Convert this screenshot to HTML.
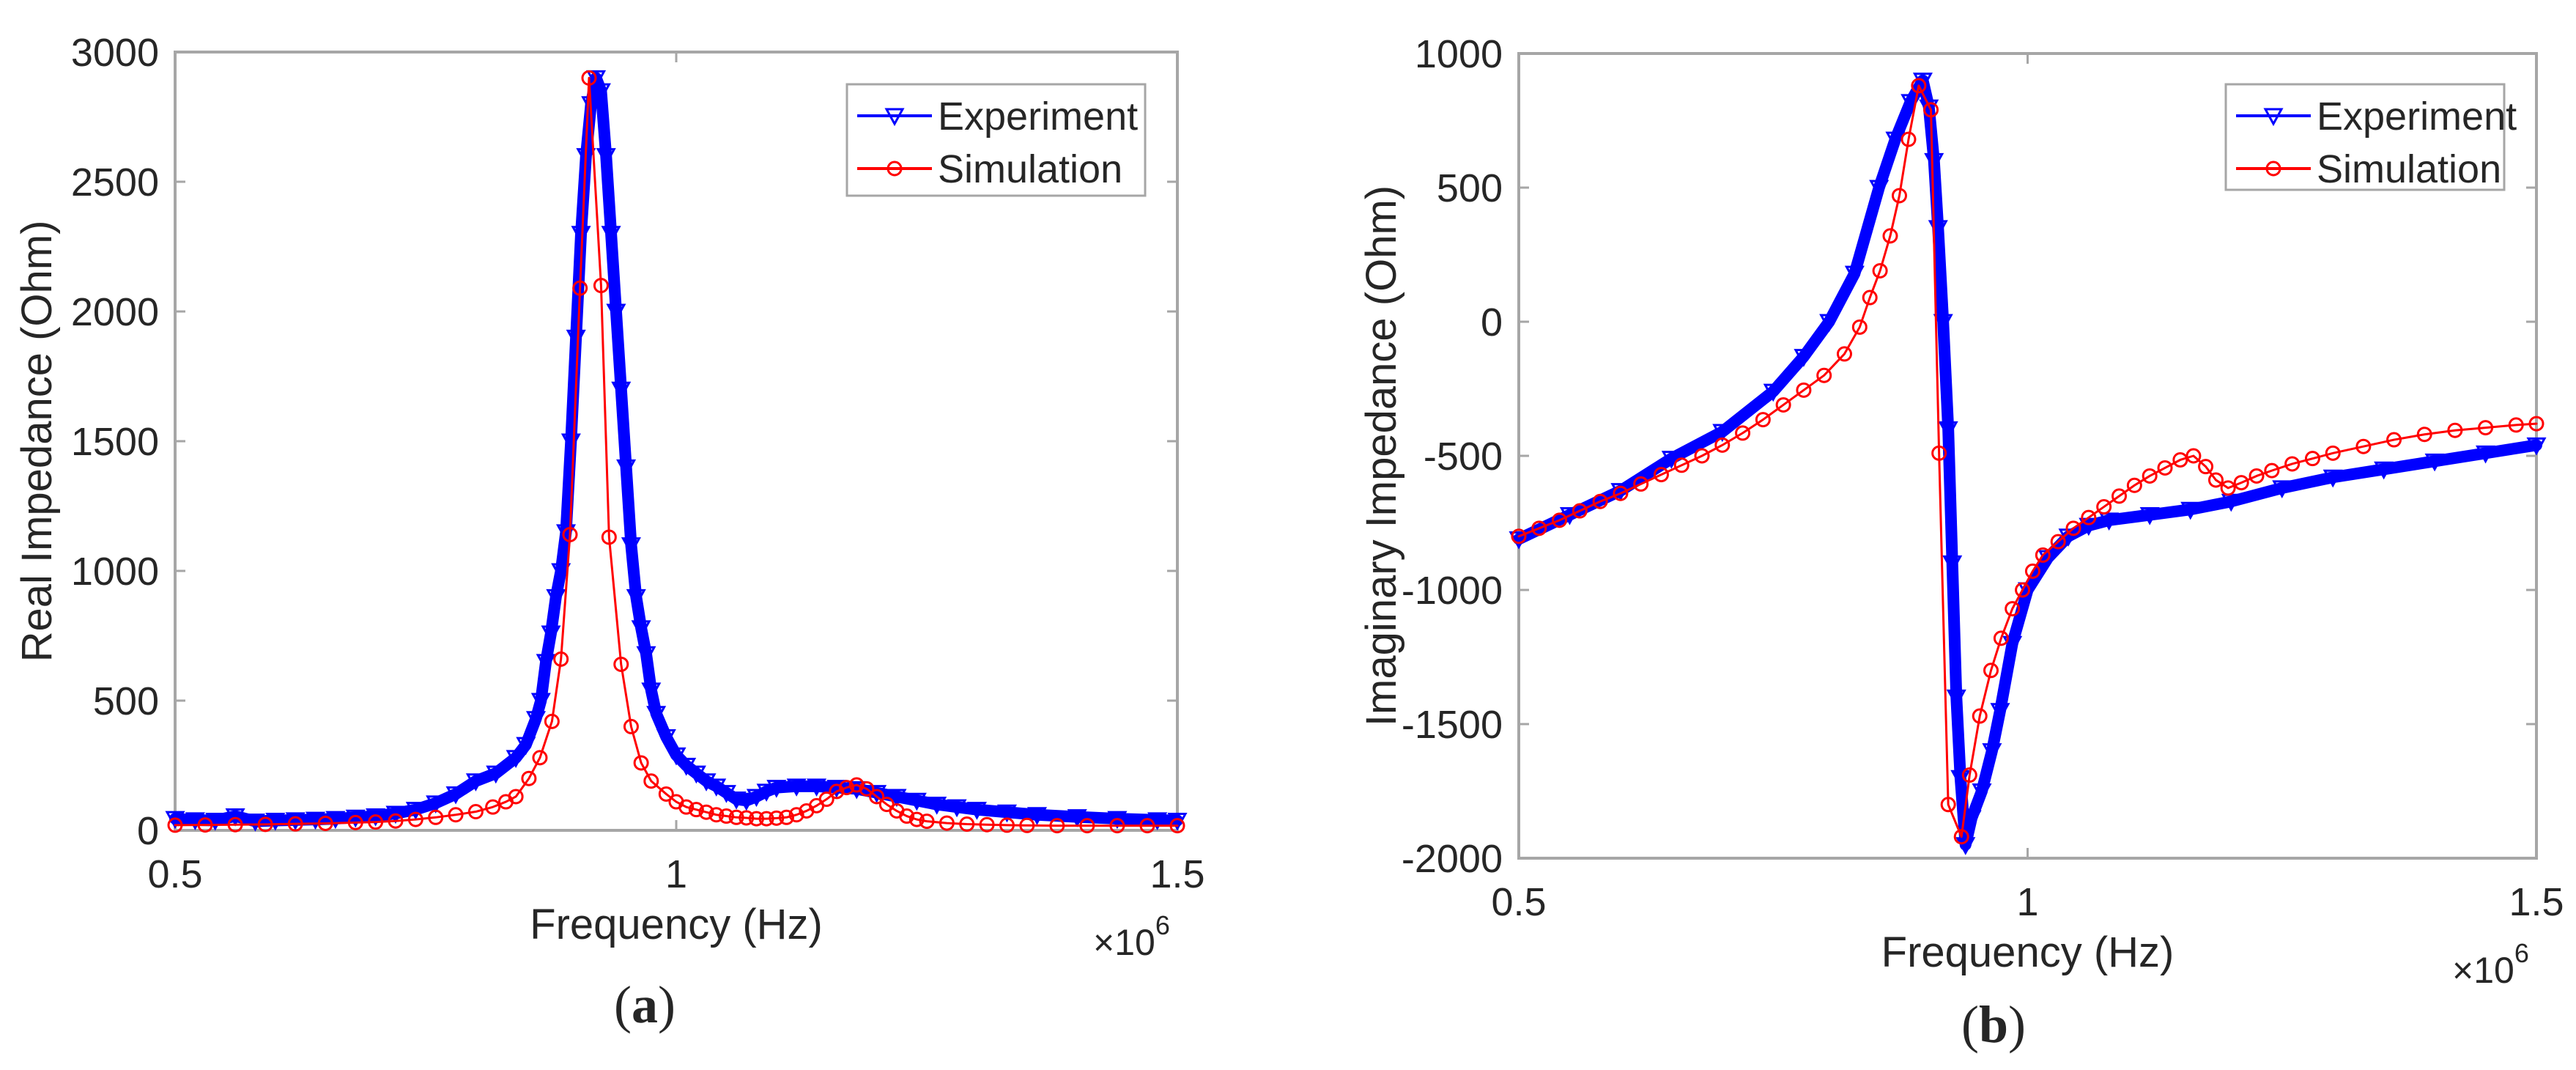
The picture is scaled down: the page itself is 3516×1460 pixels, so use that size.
<!DOCTYPE html>
<html><head><meta charset="utf-8"><style>
body{margin:0;background:#fff;width:3516px;height:1460px;overflow:hidden}
svg{display:block}
text{font-family:"Liberation Sans",sans-serif;fill:#262626}
</style></head><body>
<svg id="fig" width="3516" height="1460" xmlns="http://www.w3.org/2000/svg"></svg>
<script>
// Panel (a) real impedance data (freq in MHz, value in Ohm)
const realExpF=[0.50,0.52,0.54,0.56,0.58,0.60,0.62,0.64,0.66,0.68,0.70,0.72,0.74,0.76,0.78,0.80,0.82,0.84,0.85,0.86,0.865,0.87,0.875,0.88,0.885,0.89,0.895,0.90,0.905,0.91,0.915,0.92,0.925,0.93,0.935,0.94,0.945,0.95,0.955,0.96,0.965,0.97,0.975,0.98,0.99,1.00,1.01,1.02,1.03,1.04,1.05,1.06,1.07,1.08,1.09,1.10,1.12,1.14,1.16,1.18,1.20,1.22,1.24,1.26,1.28,1.30,1.33,1.36,1.40,1.44,1.48,1.50];
const realExpV=[45,40,38,55,35,38,40,42,45,50,55,65,80,105,140,190,220,280,330,430,500,650,760,900,1000,1150,1500,1900,2300,2600,2800,2900,2850,2600,2300,2000,1700,1400,1100,900,780,680,540,450,360,290,250,220,190,170,145,120,115,130,150,165,170,170,165,160,145,130,115,100,90,80,70,60,52,45,40,38];
const realSimF=[0.50,0.53,0.56,0.59,0.62,0.65,0.68,0.70,0.72,0.74,0.76,0.78,0.80,0.817,0.830,0.840,0.853,0.864,0.876,0.885,0.894,0.904,0.913,0.925,0.933,0.945,0.955,0.965,0.975,0.99,1.0,1.01,1.02,1.03,1.04,1.05,1.06,1.07,1.08,1.09,1.10,1.11,1.12,1.13,1.14,1.15,1.16,1.17,1.18,1.19,1.20,1.21,1.22,1.23,1.24,1.25,1.27,1.29,1.31,1.33,1.35,1.38,1.41,1.44,1.47,1.50];
const realSimV=[20,21,22,23,25,27,30,32,36,42,50,60,72,90,110,130,200,280,420,660,1140,2090,2900,2100,1130,640,400,260,190,140,110,90,80,70,60,55,50,48,45,45,47,50,60,75,95,120,150,165,175,160,130,100,75,55,42,35,28,24,22,20,19,18,18,18,18,18];
// Panel (b) imaginary impedance data
const imagExpF=[0.50,0.55,0.60,0.65,0.70,0.75,0.78,0.805,0.83,0.854,0.87,0.885,0.897,0.903,0.908,0.912,0.917,0.922,0.926,0.93,0.934,0.939,0.945,0.955,0.965,0.973,0.985,1.0,1.02,1.04,1.06,1.08,1.12,1.16,1.20,1.25,1.30,1.35,1.40,1.45,1.50];
const imagExpV=[-810,-720,-630,-510,-410,-260,-130,0,180,500,680,820,900,800,600,350,0,-400,-900,-1400,-1700,-1950,-1850,-1750,-1600,-1450,-1200,-1000,-880,-800,-760,-740,-720,-700,-670,-620,-580,-550,-520,-490,-460];
const imagSimF=[0.50,0.52,0.54,0.56,0.58,0.60,0.62,0.64,0.66,0.68,0.70,0.72,0.74,0.76,0.78,0.80,0.82,0.835,0.845,0.855,0.865,0.874,0.883,0.893,0.905,0.913,0.922,0.935,0.943,0.953,0.964,0.974,0.985,0.995,1.005,1.015,1.03,1.045,1.06,1.075,1.09,1.105,1.12,1.135,1.15,1.163,1.175,1.185,1.197,1.21,1.225,1.24,1.26,1.28,1.30,1.33,1.36,1.39,1.42,1.45,1.48,1.50];
const imagSimV=[-800,-770,-740,-705,-670,-640,-605,-570,-535,-500,-460,-415,-365,-310,-255,-200,-120,-20,90,190,320,470,680,880,790,-490,-1800,-1920,-1690,-1470,-1300,-1180,-1070,-1000,-930,-870,-820,-770,-730,-690,-650,-610,-575,-545,-515,-500,-540,-590,-620,-600,-575,-555,-530,-510,-490,-465,-440,-420,-405,-395,-385,-380];
const xTicks=[0.5,1,1.5];
const xTickLabels=["0.5","1","1.5"];
const realTicks=[0,500,1000,1500,2000,2500,3000];
const imagTicks=[-2000,-1500,-1000,-500,0,500,1000];

const NS="http://www.w3.org/2000/svg";
const svg=document.getElementById('fig');
function mk(tag,attrs,parent,txt){const e=document.createElementNS(NS,tag);for(const k in attrs)e.setAttribute(k,attrs[k]);if(txt!==undefined)e.textContent=txt;(parent||svg).appendChild(e);return e;}

function panel(o){
  const g=mk('g',{});
  
  
  const X=v=>o.L+(v-0.5)/(1.0)*(o.R-o.L);
  const Y=v=>o.B-(v-o.ymin)/(o.ymax-o.ymin)*(o.B-o.T);
  const clip='c'+o.name;
  const cp=mk('clipPath',{id:clip},g);mk('rect',{x:o.L-15,y:o.T-15,width:o.R-o.L+30,height:o.B-o.T+30},cp);
  const box=mk('rect',{x:o.L,y:o.T,width:o.R-o.L,height:o.B-o.T,fill:'none',stroke:'#a6a6a6','stroke-width':4},g);
  
  
  xTicks.forEach((t,i)=>{
    const x=X(t);
    mk('line',{x1:x,y1:o.B,x2:x,y2:o.B-14,stroke:'#a6a6a6','stroke-width':3},g);
    mk('line',{x1:x,y1:o.T,x2:x,y2:o.T+14,stroke:'#a6a6a6','stroke-width':3},g);
    const tl=mk('text',{x:x,y:o.B+78,'font-size':54,'text-anchor':'middle'},g,xTickLabels[i]);
    
    
  });
  o.yt.forEach(t=>{
    const y=Y(t);
    mk('line',{x1:o.L,y1:y,x2:o.L+14,y2:y,stroke:'#a6a6a6','stroke-width':3},g);
    mk('line',{x1:o.R,y1:y,x2:o.R-14,y2:y,stroke:'#a6a6a6','stroke-width':3},g);
    const tl=mk('text',{x:o.L-22,y:y+19,'font-size':54,'text-anchor':'end'},g,String(t));
    
    
  });
  function series(F,V,color,marker,lw,nm){
    const sg=mk('g',{'clip-path':'url(#'+clip+')'},g);
    
    
    mk('polyline',{points:F.map((f,i)=>X(f)+','+Y(V[i])).join(' '),fill:'none',stroke:color,'stroke-width':lw,'stroke-linejoin':'round','stroke-linecap':'round'},sg);
    F.forEach((f,i)=>{
      const x=X(f),y=Y(V[i]);
      if(marker==='tri') mk('path',{d:`M${x-11},${y-9}L${x+11},${y-9}L${x},${y+11}Z`,fill:'none',stroke:color,'stroke-width':3},sg);
      else mk('circle',{cx:x,cy:y,r:9,fill:'none',stroke:color,'stroke-width':3},sg);
    });
  }
  series(o.eF,o.eV,'#0000ff','tri',o.ew,'experiment-series');
  series(o.sF,o.sV,'#ff0000','circ',3,'simulation-series');
  const lg=mk('g',{},g);
  
  
  mk('rect',{x:o.lx,y:o.ly,width:o.lw,height:o.lh,fill:'#fff',stroke:'#a6a6a6','stroke-width':3},lg);
  const ents=[['Experiment','#0000ff','tri'],['Simulation','#ff0000','circ']];
  ents.forEach((e,i)=>{
    const y=o.ly+43+i*72, x0=o.lx+14, x1=o.lx+116, xm=(x0+x1)/2;
    mk('line',{x1:x0,y1:y,x2:x1,y2:y,stroke:e[1],'stroke-width':4},lg);
    if(e[2]==='tri') mk('path',{d:`M${xm-11},${y-9}L${xm+11},${y-9}L${xm},${y+11}Z`,fill:'none',stroke:e[1],'stroke-width':3},lg);
    else mk('circle',{cx:xm,cy:y,r:9,fill:'none',stroke:e[1],'stroke-width':3},lg);
    const t=mk('text',{x:o.lx+124,y:y+19,'font-size':54,fill:'#000'},lg,e[0]);
    
    
  });
  const xl=mk('text',{x:(o.L+o.R)/2,y:o.B+148,'font-size':58,'text-anchor':'middle'},g,'Frequency (Hz)');
  
  
  const yl=mk('text',{x:0,y:0,'font-size':58,'text-anchor':'middle',transform:`translate(${o.ytx},${(o.T+o.B)/2}) rotate(-90)`},g,o.ytitle);
  
  
  const ex=mk('text',{x:o.R-115,y:o.B+170,'font-size':50},g);
  
  
  mk('tspan',{},ex,'×10');
  mk('tspan',{dy:-28,'font-size':36},ex,'6');
  const cap=mk('text',{x:o.capx,y:o.capy,'font-size':72,'text-anchor':'middle',style:'font-family:"Liberation Serif",serif',fill:'#000'},g);
  
  
  mk('tspan',{},cap,'(');
  mk('tspan',{'font-weight':'bold'},cap,o.cap);
  mk('tspan',{},cap,')');
}
panel({name:'panel-a-real',L:239,R:1607,T:71,B:1133,ymin:0,ymax:3000,yt:realTicks,eF:realExpF,eV:realExpV,sF:realSimF,sV:realSimV,ew:16,
  lx:1156,ly:115,lw:407,lh:152,ytitle:'Real Impedance (Ohm)',ytx:70,cap:'a',capx:880,capy:1395});
panel({name:'panel-b-imag',L:2073,R:3462,T:73,B:1171,ymin:-2000,ymax:1000,yt:imagTicks,eF:imagExpF,eV:imagExpV,sF:imagSimF,sV:imagSimV,ew:16,
  lx:3038,ly:115,lw:380,lh:144,ytitle:'Imaginary Impedance (Ohm)',ytx:1905,cap:'b',capx:2721,capy:1422});
</script>
</body></html>
